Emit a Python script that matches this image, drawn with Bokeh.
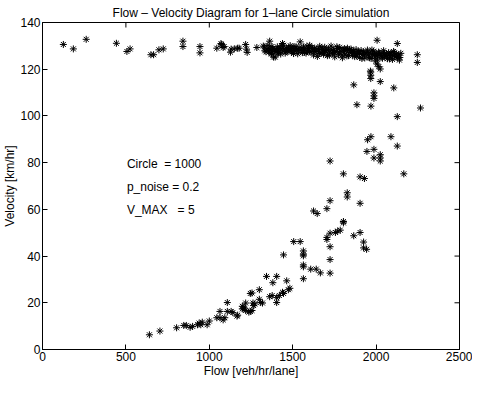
import math
from bokeh.plotting import figure
from bokeh.models import Range1d, FixedTicker
from bokeh.core.properties import value
from bokeh.embed import file_html
from bokeh.resources import INLINE

FONT = "Liberation Sans"

title_text = "Flow \u2013 Velocity Diagram for 1\u2013lane Circle simulation"
x_label = "Flow [veh/hr/lane]"
y_label = "Velocity [km/hr]"
x_ticks = [0, 500, 1000, 1500, 2000, 2500]
y_ticks = [0, 20, 40, 60, 80, 100, 120, 140]
x_min, x_max = 0, 2500
y_min, y_max = 0, 140

ann_x = [506, 506, 506]
ann_y = [79.5, 69.7, 59.9]
ann_text = ["Circle\u00a0\u00a0= 1000", "p_noise = 0.2", "V_MAX\u00a0\u00a0\u00a0= 5"]

# free-flow branch (sparse part)
free_flow = [125, 185, 262, 443, 506, 525, 650, 666, 698, 724, 842, 842, 944, 944,
             1045, 1070, 1074, 1083, 1089, 1127, 1131, 1150, 1170, 1179, 1218, 1223,
             1227, 1285, 1324, 1333, 1362, 1362, 1372, 1385, 1439, 1545]
free_vel = [130.6, 128.7, 132.8, 131.1, 127.6, 128.7, 126.2, 126.2, 128.3, 128.7, 132.0, 129.7, 129.7, 127.0,
            129.0, 131.0, 130.6, 129.3, 129.7, 127.3, 128.6, 128.7, 129.0, 129.0, 130.6, 128.6,
            127.2, 129.3, 129.9, 127.9, 132.0, 128.6, 126.5, 125.2, 131.0, 131.7]

# free-flow branch (dense band)
band_flow = [1330, 1340, 1352, 1365, 1372, 1380, 1388, 1395, 1400, 1408, 1415, 1420, 1428, 1435,
             1440, 1448, 1455, 1462, 1470, 1478, 1485, 1492, 1500, 1508, 1515, 1522, 1530, 1538,
             1550, 1558, 1565, 1572, 1580, 1588, 1595, 1602, 1610, 1618, 1625, 1632, 1640, 1648,
             1655, 1662, 1670, 1678, 1685, 1692, 1700, 1708, 1715, 1722, 1730, 1738, 1745, 1752,
             1760, 1768, 1775, 1782, 1790, 1798, 1805, 1812, 1820, 1828, 1835, 1842, 1850, 1858,
             1865, 1872, 1880, 1888, 1895, 1902, 1910, 1918, 1925, 1932, 1940, 1948, 1955, 1962,
             1970, 1978, 1985, 1992, 2000, 2008, 2015, 2022, 2030, 2038, 2045, 2052, 2060, 2068,
             2075, 2082, 2090, 2098, 2105, 2112, 2120, 2128, 2135, 2142,
             1345, 1358, 1375, 1392, 1410, 1425, 1445, 1460, 1475, 1490, 1505, 1520, 1535, 1555,
             1570, 1585, 1600, 1615, 1630, 1645, 1660, 1675, 1690, 1705, 1720, 1735, 1750, 1765,
             1780, 1795, 1810, 1825, 1840, 1855, 1870, 1885, 1900, 1915, 1930, 1945, 1960, 1975,
             1990, 2005, 2020, 2035, 2050, 2065, 2080, 2095, 2110, 2125, 2140, 2148]
band_vel = [129.5, 127.5, 130.2, 128.1, 126.8, 129.0, 127.6, 125.2, 128.4, 129.6, 127.2, 128.8, 126.5, 129.9,
            127.9, 128.6, 126.9, 129.1, 127.7, 128.5, 130.1, 127.3, 128.9, 129.7, 127.8, 128.4, 126.6, 129.2,
            128.0, 127.1, 129.5, 128.3, 126.9, 127.8, 128.9, 130.2, 127.4, 128.6, 126.1, 129.0, 127.6, 125.5,
            128.2, 129.8, 127.0, 128.5, 126.4, 129.4, 127.9, 125.8, 128.7, 127.3, 129.9, 126.8, 128.1, 125.3,
            127.5, 128.9, 126.2, 129.3, 127.7, 124.9, 128.3, 126.5, 127.9, 129.0, 125.8, 127.2, 128.6, 126.0,
            127.8, 125.4, 128.4, 126.7, 127.5, 125.1, 128.0, 126.3, 127.4, 124.8, 126.9, 128.2, 125.6, 127.0,
            124.6, 126.4, 127.7, 125.2, 126.8, 124.3, 127.3, 125.9, 126.6, 124.7, 127.9, 125.5, 126.2, 124.5,
            127.1, 125.8, 126.9, 124.2, 127.6, 125.3, 126.5, 124.8, 126.1, 125.0,
            128.6, 127.4, 129.7, 128.2, 126.9, 128.9, 130.3, 127.5, 129.2, 128.0, 126.7, 129.6, 127.9, 129.0,
            127.2, 129.9, 127.5, 129.4, 127.7, 128.8, 126.8, 129.1, 127.3, 128.4, 126.0, 128.3, 127.1, 129.6,
            127.4, 126.1, 128.8, 125.7, 128.4, 127.3, 126.8, 125.6, 126.9, 124.6, 126.1, 127.2, 124.9, 128.2,
            126.3, 125.8, 126.9, 125.1, 126.7, 125.9, 124.4, 126.0, 127.0, 125.6, 123.9, 126.8]

# transition and congested branch
cong_flow = [2006, 2127, 2247, 2247, 2266,
             1997, 2006, 2025, 2016, 1966, 1968, 1968, 1968, 2025, 1866, 2106, 1987, 1987, 1987,
             1885, 1969, 2127, 1969, 1949, 2089, 2127, 1945, 1987, 1987, 2025, 2025, 2025, 1724,
             1804, 1904, 1930, 2166,
             1827, 1827, 1904, 1724, 1625, 1647, 1705, 1804, 1804, 1785, 1770, 1756, 1724, 1705,
             1705, 1866, 1904, 1925, 1925, 1943, 1724, 1724, 1724, 1506, 1545, 1564, 1564, 1564,
             1564, 1564, 1564, 1608, 1641, 1666, 1445, 1343, 1381, 1404, 1464, 1483, 1474, 1439,
             1445, 1404, 1404, 1377, 1362, 1420, 1300, 1256, 1246, 1300, 1308, 1319, 1273, 1262,
             1266, 1256, 1208, 1198, 1218, 1237, 1246, 1170,
             641, 704, 804, 847, 862, 885, 900, 929, 939, 949, 958, 987, 1000, 1045, 1064, 1064,
             1083, 1093, 1108, 1131, 1141, 1108, 1166, 1198, 1208, 1218]
cong_vel = [132.4, 131.0, 126.2, 122.9, 103.4,
            123.5, 122.2, 120.1, 121.1, 119.2, 118.8, 117.4, 116.0, 114.7, 113.3, 112.0, 109.9, 108.6, 107.5,
            104.8, 104.2, 99.7, 91.1, 89.8, 91.1, 87.1, 84.8, 85.7, 82.0, 83.4, 82.0, 80.7, 80.7,
            75.2, 73.9, 73.2, 75.2,
            67.1, 65.3, 62.6, 63.7, 59.3, 58.2, 60.3, 54.8, 54.2, 51.1, 50.7, 50.1, 49.8, 48.0,
            47.1, 48.7, 50.1, 46.0, 43.5, 42.9, 44.0, 38.5, 32.7, 46.2, 46.2, 42.2, 40.8, 40.1,
            36.2, 35.4, 30.3, 34.4, 34.4, 32.8, 40.5, 31.3, 28.6, 31.3, 29.4, 26.2, 25.6, 24.5,
            24.0, 22.2, 20.1, 23.1, 22.6, 23.1, 25.6, 24.2, 24.0, 21.5, 20.1, 19.9, 19.5, 19.9,
            18.8, 16.7, 18.1, 17.4, 16.7, 16.0, 16.3, 14.7,
            6.3, 7.9, 9.3, 10.3, 10.3, 9.5, 9.9, 10.6, 11.3, 10.6, 11.7, 10.6, 12.2, 13.6, 16.3, 13.6,
            12.7, 13.6, 16.3, 16.3, 15.8, 20.1, 14.3, 18.5, 17.4, 19.9]

flow = free_flow + band_flow + cong_flow
vel = free_vel + band_vel + cong_vel

p = figure(width=472, height=380, x_range=Range1d(x_min, x_max), y_range=Range1d(y_min, y_max),
           output_backend="svg", toolbar_location=None, title=title_text,
           min_border_left=20, min_border_right=13, min_border_top=0, min_border_bottom=0)

p.background_fill_color = "white"
p.border_fill_color = "white"
p.outline_line_color = "black"
p.outline_line_width = 1
p.xgrid.visible = False
p.ygrid.visible = False

p.title.text_font = FONT
p.title.text_font_size = "12px"
p.title.text_font_style = "normal"
p.title.align = "center"
p.title.text_color = "black"
p.title.standoff = 6

for ax, ticks in ((p.xaxis[0], x_ticks), (p.yaxis[0], y_ticks)):
    ax.ticker = FixedTicker(ticks=ticks)
    ax.major_tick_in = 5
    ax.major_tick_out = 0
    ax.minor_tick_in = 0
    ax.minor_tick_out = 0
    ax.axis_line_color = "black"
    ax.major_tick_line_color = "black"
    ax.major_label_text_font = FONT
    ax.major_label_text_font_size = "12px"
    ax.major_label_text_color = "black"
    ax.axis_label_text_font = FONT
    ax.axis_label_text_font_size = "12px"
    ax.axis_label_text_font_style = "normal"
    ax.axis_label_text_color = "black"
    ax.major_label_standoff = 2
    ax.axis_label_standoff = 0

p.xaxis[0].axis_label = x_label
p.yaxis[0].axis_label = y_label

# inward tick marks on the top and right edges of the box
top_y = [y_max] * len(x_ticks)
right_x = [x_max] * len(y_ticks)
p.scatter(x_ticks, top_y, marker="dash", angle=math.pi / 2, size=10, line_color="black", line_width=1)
p.scatter(right_x, y_ticks, marker="dash", angle=0, size=10, line_color="black", line_width=1)

p.scatter(flow, vel, marker="asterisk", size=7, line_color="black", line_width=1)

p.text(x=ann_x, y=ann_y, text=ann_text, text_font=value(FONT), text_font_size="12px",
       text_baseline="middle", text_align="left", text_color="black")

open("out.html", "w").write(file_html(p, INLINE))
